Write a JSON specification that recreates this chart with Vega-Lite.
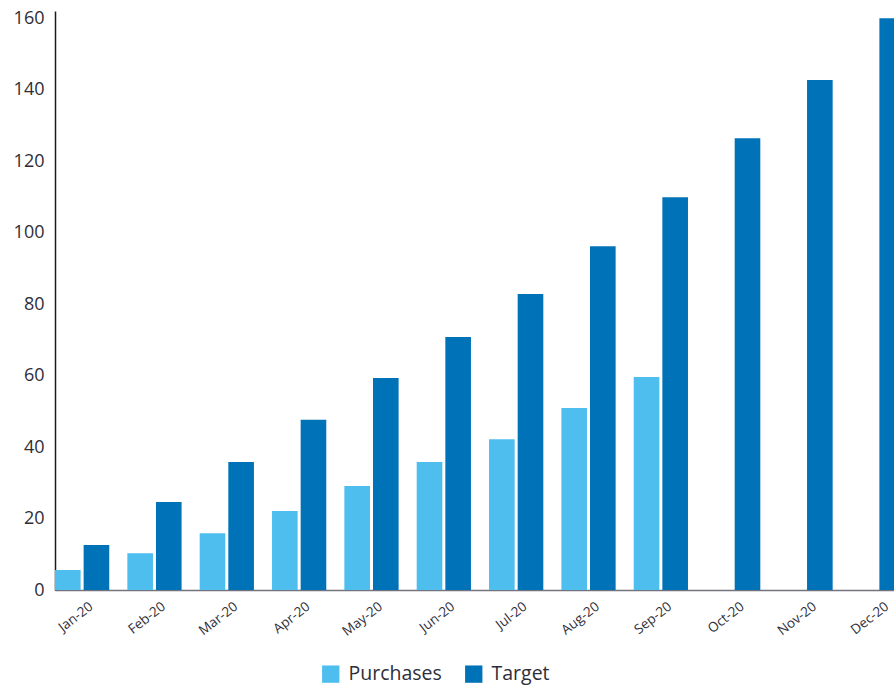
{
  "$schema": "https://vega.github.io/schema/vega-lite/v6.json",
  "width": 839,
  "height": 579,
  "autosize": {"type": "none"},
  "padding": {"left": 55, "top": 11, "right": 0, "bottom": 95},
  "background": "white",
  "config": {
    "view": {"stroke": null},
    "font": "Open Sans"
  },
  "data": {
    "values": [
      {"month": "Jan-20", "series": "Purchases", "value": 5.6},
      {"month": "Jan-20", "series": "Target", "value": 12.6},
      {"month": "Feb-20", "series": "Purchases", "value": 10.3},
      {"month": "Feb-20", "series": "Target", "value": 24.6},
      {"month": "Mar-20", "series": "Purchases", "value": 15.9},
      {"month": "Mar-20", "series": "Target", "value": 35.8},
      {"month": "Apr-20", "series": "Purchases", "value": 22.1},
      {"month": "Apr-20", "series": "Target", "value": 47.6},
      {"month": "May-20", "series": "Purchases", "value": 29.1},
      {"month": "May-20", "series": "Target", "value": 59.3},
      {"month": "Jun-20", "series": "Purchases", "value": 35.8},
      {"month": "Jun-20", "series": "Target", "value": 70.8},
      {"month": "Jul-20", "series": "Purchases", "value": 42.2},
      {"month": "Jul-20", "series": "Target", "value": 82.8},
      {"month": "Aug-20", "series": "Purchases", "value": 50.9},
      {"month": "Aug-20", "series": "Target", "value": 96.2},
      {"month": "Sep-20", "series": "Purchases", "value": 59.6},
      {"month": "Sep-20", "series": "Target", "value": 109.9},
      {"month": "Oct-20", "series": "Target", "value": 126.4},
      {"month": "Nov-20", "series": "Target", "value": 142.7},
      {"month": "Dec-20", "series": "Target", "value": 160}
    ]
  },
  "mark": {"type": "bar"},
  "encoding": {
    "x": {
      "field": "month",
      "type": "nominal",
      "sort": ["Jan-20","Feb-20","Mar-20","Apr-20","May-20","Jun-20","Jul-20","Aug-20","Sep-20","Oct-20","Nov-20","Dec-20"],
      "scale": {"range": [0, 850], "paddingInner": 0.25, "paddingOuter": 0},
      "axis": {
        "title": null,
        "labelAngle": -38,
        "labelAlign": "right",
        "labelBaseline": "top",
        "labelFontSize": 13.5,
        "labelColor": "#2e2e38",
        "labelPadding": 9,
        "labelOffset": 5,
        "ticks": false,
        "domainColor": "#747480",
        "domainWidth": 1.5
      }
    },
    "xOffset": {
      "field": "series",
      "type": "nominal",
      "scale": {"domain": ["Purchases", "Target"], "paddingInner": 0.105, "paddingOuter": 0}
    },
    "y": {
      "field": "value",
      "type": "quantitative",
      "scale": {"domain": [0, 162], "nice": false},
      "axis": {
        "title": null,
        "values": [0, 20, 40, 60, 80, 100, 120, 140, 160],
        "grid": false,
        "ticks": false,
        "labelFontSize": 18,
        "labelColor": "#2e2e38",
        "labelPadding": 11,
        "domainColor": "#1a1a24",
        "domainWidth": 1.5
      }
    },
    "color": {
      "field": "series",
      "type": "nominal",
      "scale": {"domain": ["Purchases", "Target"], "range": ["#4EBEEF", "#0072B7"]},
      "legend": {
        "title": null,
        "orient": "none",
        "direction": "horizontal",
        "legendX": 266,
        "legendY": 653,
        "symbolType": "square",
        "symbolSize": 300,
        "symbolStrokeWidth": 0,
        "labelFontSize": 19.5,
        "labelColor": "#2e2e38",
        "columnPadding": 22,
        "labelOffset": 8
      }
    }
  }
}
